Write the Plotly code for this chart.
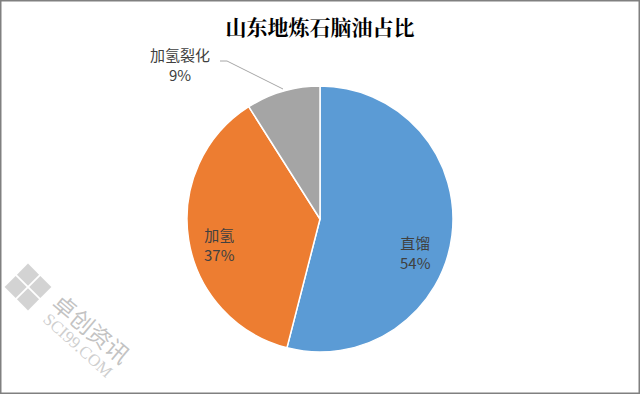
import plotly.graph_objects as go

title = "山东地炼石脑油占比"
labels = ["直馏", "加氢", "加氢裂化"]
values = [54, 37, 9]
colors = ["#5B9BD5", "#ED7D31", "#A5A5A5"]

W, H = 640, 394
cx, cy, r = 320, 219, 133

fig = go.Figure()
fig.add_trace(go.Pie(
    labels=labels, values=values, sort=False, direction="clockwise", rotation=0,
    marker=dict(colors=colors, line=dict(color="white", width=1.5)),
    textinfo="none",
    hoverinfo="label+percent", showlegend=False,
    domain=dict(x=[(cx - r) / W, (cx + r) / W], y=[(H - cy - r) / H, (H - cy + r) / H]),
))

lab_font = dict(family="Noto Sans CJK SC", size=15, color="#404040")
# data label positions (pixel, top-left origin)
label_pos = [(415, 252), (219, 244), (180, 64)]
for i, (px, py) in enumerate(label_pos):
    fig.add_annotation(x=px / W, y=1 - py / H, xref="paper", yref="paper",
                       xanchor="center", yanchor="middle",
                       text=f"{labels[i]}<br>{values[i]}%", showarrow=False,
                       font=lab_font, align="center")

# leader line for the small slice
fig.add_shape(type="path", xref="paper", yref="paper",
              path=f"M {220/W},{1-61/H} L {227/W},{1-61/H} L {283/W},{1-89/H}",
              line=dict(color="#A6A6A6", width=1))

# watermark
wm = "rgba(175,175,175,0.75)"
fig.add_annotation(x=92 / W, y=1 - 328 / H, xref="paper", yref="paper", text="卓创资讯",
                   xanchor="center", yanchor="middle",
                   showarrow=False, textangle=40,
                   font=dict(family="Noto Sans CJK SC", size=23, color=wm))
fig.add_annotation(x=78 / W, y=1 - 345 / H, xref="paper", yref="paper", text="SCI99.COM",
                   xanchor="center", yanchor="middle",
                   showarrow=False, textangle=42,
                   font=dict(family="Liberation Serif", size=17, color="rgba(190,190,190,0.75)"))
# logo: diamond split into 4 squares
lx, ly, s = 28, 287, 13
def P(x, y):
    return f"{x/W},{1-y/H}"
logo_shapes = []
for (dx, dy) in [(0, -1), (1, 0), (0, 1), (-1, 0)]:
    ccx, ccy = lx + dx * s * 0.95, ly + dy * s * 0.95
    path = (f"M {P(ccx, ccy - s*0.85)} L {P(ccx + s*0.85, ccy)} L {P(ccx, ccy + s*0.85)} "
            f"L {P(ccx - s*0.85, ccy)} Z")
    logo_shapes.append(dict(type="path", xref="paper", yref="paper", path=path,
                            fillcolor="rgba(200,200,200,0.8)", line=dict(width=0)))

fig.update_layout(
    width=W, height=H, margin=dict(l=0, r=0, t=0, b=0),
    paper_bgcolor="white", plot_bgcolor="white",
    title=dict(text=f"<b>{title}</b>", x=0.5, xanchor="center", y=1 - 28 / H, yanchor="middle",
               font=dict(family="Noto Serif CJK SC, Noto Sans CJK SC", size=21, color="#000000")),
    shapes=list(fig.layout.shapes) + logo_shapes + [
        dict(type="rect", xref="paper", yref="paper", x0=0, y0=0, x1=1, y1=1,
             line=dict(color="#808080", width=3), fillcolor="rgba(0,0,0,0)")],
)

fig.write_html("out.html", config={"displayModeBar": False},
               post_script="document.body.style.margin='0';document.body.style.overflow='hidden';")
